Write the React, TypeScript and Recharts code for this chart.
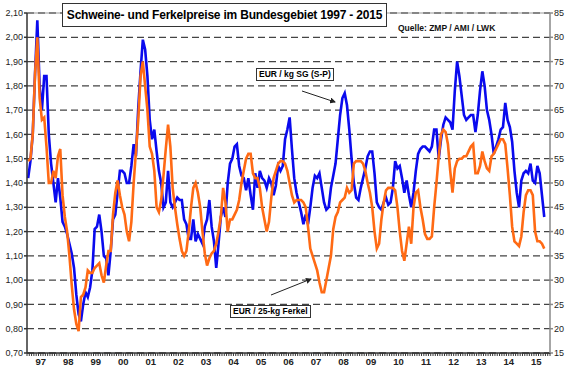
import React from "react";
import {
  CartesianGrid,
  Line,
  LineChart,
  ReferenceLine,
  XAxis,
  YAxis,
} from "recharts";

// Jahre 1997 - 2015, Monatswerte ab Januar 1997
const yearLabels = ["97", "98", "99", "00", "01", "02", "03", "04", "05", "06", "07", "08", "09", "10", "11", "12", "13", "14", "15"];

// EUR / kg SG (S-P), linke Achse
const schweine = [
  1.42, 1.49, 1.60, 1.85, 2.07, 1.80, 1.70, 1.84, 1.84, 1.60, 1.48, 1.40,
  1.32, 1.42, 1.34, 1.24, 1.22, 1.19, 1.15, 1.11, 1.05, 0.94, 0.86, 0.83,
  0.90, 0.95, 0.93, 0.97, 1.04, 1.21, 1.22, 1.27, 1.20, 1.10, 1.09, 1.02,
  1.12, 1.25, 1.27, 1.36, 1.45, 1.45, 1.44, 1.40, 1.40, 1.47, 1.56, 1.51,
  1.71, 1.86, 1.99, 1.95, 1.84, 1.66, 1.58, 1.62, 1.53, 1.45, 1.40, 1.30,
  1.32, 1.45, 1.32, 1.30, 1.32, 1.34, 1.33, 1.33, 1.25, 1.23, 1.17, 1.17,
  1.25, 1.16, 1.19, 1.17, 1.15, 1.22, 1.25, 1.33, 1.22, 1.16, 1.05, 1.15,
  1.26, 1.30, 1.26, 1.40, 1.48, 1.50, 1.55, 1.56, 1.47, 1.43, 1.42, 1.37,
  1.42, 1.35, 1.29, 1.44, 1.38, 1.45, 1.42, 1.41, 1.38, 1.42, 1.40, 1.35,
  1.39, 1.47, 1.45, 1.47, 1.58, 1.62, 1.67, 1.54, 1.42, 1.36, 1.32, 1.28,
  1.23, 1.27, 1.23, 1.30, 1.38, 1.43, 1.42, 1.44, 1.38, 1.32, 1.29, 1.30,
  1.38, 1.43, 1.48, 1.58, 1.68, 1.75, 1.77, 1.72, 1.62, 1.50, 1.40, 1.34,
  1.33, 1.38, 1.42, 1.46, 1.51, 1.53, 1.53, 1.44, 1.32, 1.30, 1.29, 1.32,
  1.34, 1.31, 1.32, 1.38, 1.49, 1.46, 1.47, 1.42, 1.36, 1.41, 1.35, 1.30,
  1.36, 1.45, 1.52, 1.54, 1.55, 1.55, 1.54, 1.53, 1.55, 1.62, 1.62, 1.50,
  1.58, 1.64, 1.67, 1.66, 1.65, 1.62, 1.78, 1.90, 1.84, 1.76, 1.68, 1.66,
  1.67, 1.68, 1.68, 1.61, 1.68, 1.78, 1.86, 1.80, 1.70, 1.66, 1.60, 1.52,
  1.55, 1.58, 1.62, 1.63, 1.73, 1.66, 1.63, 1.57, 1.45, 1.36, 1.30, 1.41,
  1.44, 1.45, 1.44, 1.48, 1.41, 1.40, 1.47, 1.44, 1.35, 1.26,
];

// EUR / 25-kg Ferkel, rechte Achse
const ferkel = [
  54.5, 55, 60, 72.5, 80, 67.5, 63, 63.5, 57.5, 50, 50, 52.5,
  51, 55.5, 57, 47.5, 43, 40, 35, 29, 24, 21, 19.5, 26.5,
  27, 28.5, 32, 31.5, 31.5, 32.5, 33, 33.5, 31, 29.5, 33, 36,
  36, 43.5, 48, 50.5, 47.5, 45, 43.5, 40, 38, 42, 50, 56.5,
  63, 72, 75, 70, 65, 57.5, 56, 52.5, 45, 44, 46.5, 51.5,
  57, 62, 57.5, 49, 45, 41.5, 38.5, 36, 35, 36, 40, 45,
  49, 50, 48, 45, 40, 35.5, 33, 34.5, 35.5, 36, 37.5, 40,
  43, 49, 46, 40, 42.5, 42.5, 43.5, 44.5, 46.5, 50, 52.5, 55,
  56, 56, 52, 51, 51, 49, 45, 42.5, 40, 42, 47, 51,
  52.5, 54, 54.5, 54.5, 54, 52.5, 50, 47.5, 46, 46.5, 46.5, 46.5,
  46, 45, 41, 36.5, 35, 33.5, 32, 29.5, 27.5, 27.5, 30, 32.5,
  35, 40.5, 43, 44, 46, 46.5, 47, 49, 48, 48.5, 54, 54.5,
  54.5, 54.5, 54, 52.5, 50, 48, 45, 40, 36.5, 37.5, 42.5, 46,
  48.5, 49, 49, 49, 48.5, 45, 40, 36, 34, 37.5, 41, 37.5,
  45, 48, 48.5, 45, 42.5, 39.5, 38.5, 38.5, 39, 45, 50, 55.5,
  60, 61, 60.5, 58, 52.5, 48, 53, 54.5, 55, 55, 55.5, 55.5,
  56.5, 57.5, 58, 52, 52, 53.5, 56.5, 54.5, 53, 52.5, 55.5, 56,
  57, 58, 59, 59, 58, 53, 47.5, 41, 38, 37.5, 37, 39,
  44, 47.5, 48.5, 48.5, 47.5, 40, 38, 38, 37.5, 36.5,
];

const leftTicks = [0.7, 0.8, 0.9, 1.0, 1.1, 1.2, 1.3, 1.4, 1.5, 1.6, 1.7, 1.8, 1.9, 2.0, 2.1];
const rightTicks = [15, 20, 25, 30, 35, 40, 45, 50, 55, 60, 65, 70, 75, 80, 85];

const data = schweine.map((v, i) => ({ m: i + 0.5, sg: v, ferkel: ferkel[i] }));
const monthTicks = Array.from({ length: yearLabels.length * 12 + 1 }, (_, i) => i);

const font = "'Liberation Sans', Arial, sans-serif";

const MonthTick = (props: any) => {
  const { x, y, payload } = props;
  const v = payload.value;
  const label = v % 12 === 6 ? yearLabels[(v - 6) / 12] : null;
  return (
    <g>
      <line x1={x} y1={y} x2={x} y2={y + 3} stroke="#333" strokeWidth={1} />
      {label && (
        <text x={x} y={y + 12} textAnchor="middle" fontSize={9.5} fontWeight="bold" fill="#222" fontFamily={font}>
          {label}
        </text>
      )}
    </g>
  );
};

export default function App() {
  return (
    <div style={{ position: "absolute", left: 0, top: 0, width: 570, height: 369, background: "#fff", fontFamily: font }}>
      <LineChart width={570} height={369} data={data} margin={{ top: 13, right: 0, bottom: 0, left: 0 }}>
        <CartesianGrid yAxisId="l" vertical={false} stroke="#444" strokeWidth={1.3} strokeDasharray="7 4" />
        <XAxis
          dataKey="m"
          type="number"
          domain={[0, 228]}
          ticks={monthTicks}
          interval={0}
          height={16}
          tickSize={0}
          tickMargin={0}
          tickLine={false}
          stroke="#333"
          strokeWidth={1.5}
          tick={<MonthTick />}
        />
        <YAxis
          yAxisId="l"
          domain={[0.7, 2.1]}
          ticks={leftTicks}
          width={27}
          tickSize={3}
          tickMargin={1}
          stroke="#333"
          strokeWidth={1.5}
          tick={{ fontSize: 9, fill: "#222", fontFamily: font }}
          tickFormatter={(v: number) => v.toFixed(2).replace(".", ",")}
        />
        <YAxis
          yAxisId="r"
          orientation="right"
          domain={[15, 85]}
          ticks={rightTicks}
          width={20}
          tickSize={3}
          tickMargin={1}
          stroke="#888"
          strokeWidth={1.5}
          tick={{ fontSize: 9, fill: "#222", fontFamily: font }}
        />
        <ReferenceLine yAxisId="l" y={2.1} stroke="#999" strokeWidth={1} />
        <Line yAxisId="l" type="linear" dataKey="sg" stroke="#0a0aee" strokeWidth={2.6} dot={false} isAnimationActive={false} />
        <Line yAxisId="r" type="linear" dataKey="ferkel" stroke="#ff6a14" strokeWidth={2.6} dot={false} isAnimationActive={false} />
      </LineChart>

      <div
        style={{
          position: "absolute", left: 62, top: 3, width: 325, height: 24,
          border: "1px solid #333", background: "#fff", boxSizing: "border-box",
          fontSize: 12, letterSpacing: -0.2, fontWeight: "bold", lineHeight: "22px", textAlign: "center", color: "#000", whiteSpace: "nowrap",
        }}
      >
        Schweine- und Ferkelpreise im Bundesgebiet 1997 - 2015
      </div>
      <div style={{ position: "absolute", left: 398, top: 23, fontSize: 8.5, fontWeight: "bold", color: "#111", whiteSpace: "nowrap" }}>
        Quelle: ZMP / AMI / LWK
      </div>
      <div
        style={{
          position: "absolute", left: 256, top: 68, border: "1px solid #333", background: "#fff",
          fontSize: 8.5, fontWeight: "bold", padding: "0 2px", lineHeight: "11px", whiteSpace: "nowrap",
        }}
      >
        EUR / kg SG (S-P)
      </div>
      <div
        style={{
          position: "absolute", left: 230, top: 305, border: "1px solid #333", background: "#fff",
          fontSize: 8.5, fontWeight: "bold", padding: "0 2px", lineHeight: "11px", whiteSpace: "nowrap",
        }}
      >
        EUR / 25-kg Ferkel
      </div>
      <svg width={570} height={369} style={{ position: "absolute", left: 0, top: 0, pointerEvents: "none" }}>
        <defs>
          <marker id="ah" markerWidth="6" markerHeight="6" refX="5" refY="3" orient="auto">
            <path d="M0,0 L6,3 L0,6 z" fill="#222" />
          </marker>
        </defs>
        <line x1={302} y1={91} x2={335} y2={102} stroke="#222" strokeWidth={1} markerEnd="url(#ah)" />
        <line x1={271} y1={295} x2={311} y2={279} stroke="#222" strokeWidth={1} markerEnd="url(#ah)" />
      </svg>
    </div>
  );
}
